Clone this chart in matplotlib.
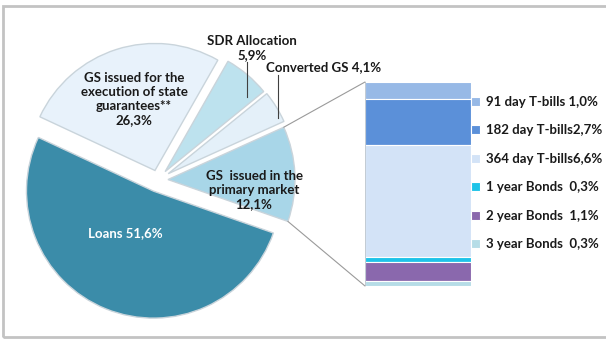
import matplotlib.pyplot as plt
from matplotlib.patches import Rectangle, ConnectionPatch
import numpy as np

plt.rcParams['font.family'] = ['Lato', 'DejaVu Sans']

# debt structure (pie)
pie_names = ["Loans", "GS issued in the primary market", "Converted GS",
             "SDR Allocation", "GS issued for the execution of state guarantees**"]
pie_values = [51.6, 12.1, 4.1, 5.9, 26.3]
pie_colors = ["#3b8ca9", "#a8d6e8", "#e4f0f9", "#bde2ee", "#e8f2fb"]

# breakdown of primary market securities (stacked bar, top to bottom)
bar_names = ["91 day T-bills", "182 day T-bills", "364 day T-bills",
             "1 year Bonds", "2 year Bonds", "3 year Bonds"]
bar_values = [1.0, 2.7, 6.6, 0.3, 1.1, 0.3]
bar_labels = ["91 day T-bills 1,0%", "182 day T-bills2,7%", "364 day T-bills6,6%",
              "1 year Bonds  0,3%", "2 year Bonds  1,1%", "3 year Bonds  0,3%"]
bar_colors = ["#97b9e6", "#5b90d9", "#d3e3f7", "#1ec3e8", "#8a68ad", "#b6dde7"]

W, H = 606, 340
fig = plt.figure(figsize=(W / 100, H / 100), dpi=100)
ax = fig.add_axes([0, 0, 1, 1])

# outer frame
ax.add_patch(Rectangle((3, 3), 610, 331, fill=False, edgecolor="#c3c3c3", lw=2))

# explode offsets are in data units (pixels here)
wedges, _ = ax.pie(pie_values, colors=pie_colors, startangle=155, counterclock=True,
                   radius=127, center=(158, 160), explode=[12, 10, 12, 11, 10],
                   wedgeprops=dict(edgecolor="#c9d4db", linewidth=1.0), frame=True)
ax.set_xlim(0, W)
ax.set_ylim(0, H)
ax.set_aspect("equal")
ax.axis("off")

bold = dict(fontsize=9.5, fontweight="bold", color="#1a1a1a", ha="center", va="center")
ax.text(125, H - 233, "Loans 51,6%", **{**bold, "color": "white"})
ax.text(134, H - 99, "GS issued for the\nexecution of state\nguarantees**\n26,3%",
        linespacing=1.2, **bold)
ax.text(252, H - 48, "SDR Allocation\n5,9%", linespacing=1.2, **bold)
ax.text(324, H - 67, "Converted GS 4,1%", **bold)
ax.text(254, H - 190, "GS  issued in the\nprimary market\n12,1%", linespacing=1.2, **bold)

# leader lines
ax.plot([247, 247], [H - 62, H - 97], color="#404040", lw=0.8)
ax.plot([278, 278], [H - 75, H - 118], color="#404040", lw=0.8)

# stacked bar
total = sum(bar_values)
bx = fig.add_axes([365 / W, 54 / H, 106 / W, 204 / H])
bottoms = total - np.cumsum(bar_values)
handles = []
for v, b, c in zip(bar_values, bottoms, bar_colors):
    h = bx.bar(0, v, bottom=b, width=1, color=c, edgecolor="white", linewidth=0.8)
    handles.append(h)
bx.set_xlim(-0.5, 0.5)
bx.set_ylim(0, total)
bx.axis("off")
bx.plot([-0.5, -0.5], [0, total], color="#b8c2cc", lw=1.2)

# connectors from the primary market wedge to the bar
w = wedges[1]
cx, cy = w.center
for theta, ybar in [(w.theta2, total), (w.theta1, 0)]:
    p = (cx + w.r * np.cos(np.radians(theta)), cy + w.r * np.sin(np.radians(theta)))
    fig.add_artist(ConnectionPatch(xyA=p, coordsA=ax.transData, xyB=(-0.5, ybar),
                                   coordsB=bx.transData, color="#9a9a9a", lw=0.8))

fig.legend(handles, bar_labels, loc="upper left", bbox_to_anchor=(471 / W, 1 - 96 / H),
           frameon=False, handlelength=0.7, handleheight=0.7, handletextpad=0.4,
           labelspacing=1.25, borderpad=0, borderaxespad=0,
           prop=dict(size=9.5, weight="bold"), labelcolor="#1a1a1a")

fig.savefig("out.png", dpi=100)
